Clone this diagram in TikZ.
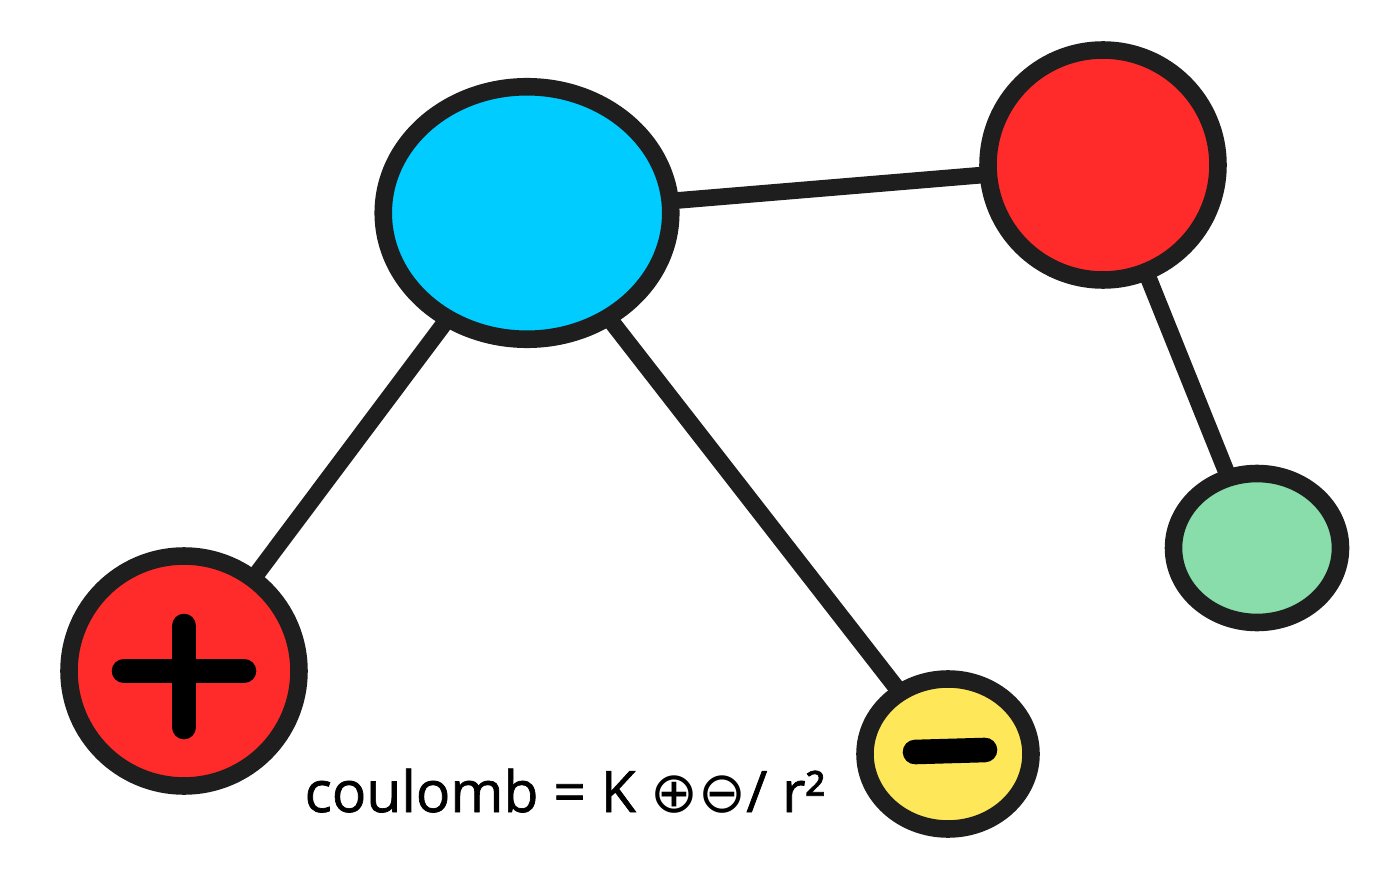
\documentclass[tikz,border=0pt]{standalone}
\usepackage{fontspec}
\setmainfont{Open Sans}
\newfontfamily\symfont{DejaVu Sans}
\newfontfamily\lawfont[FakeBold=1.2]{Open Sans}
\usetikzlibrary{shapes.geometric}
\definecolor{ink}{HTML}{1E1E1E}
\definecolor{skyblue}{HTML}{00CCFF}
\definecolor{hotred}{HTML}{FF2B2B}
\definecolor{lemon}{HTML}{FFE75A}
\definecolor{mint}{HTML}{88DDAA}
\pgfdeclarelayer{background}
\pgfsetlayers{background,main}
\tikzset{
  ball/.style={ellipse, draw=ink, line width=10pt, inner sep=0pt},
  bond/.style={ink, line width=9.5pt, line cap=round},
  sign/.style={black, line width=14pt, line cap=round},
}
\newcommand{\sym}[1]{{\symfont #1}}

\begin{document}
\begin{tikzpicture}
        \useasboundingbox (0,0) rectangle (28,17.54);
        \node[ball, fill=skyblue, minimum width=5.75cm, minimum height=5.05cm] (blue) at (10.54,13.28) {};
        \node[ball, fill=hotred, minimum width=4.6cm, minimum height=4.6cm] (red) at (22.06,14.24) {};
        \node[ball, fill=hotred, minimum width=4.6cm, minimum height=4.6cm] (plus) at (3.68,4.12) {};
        \node[ball, fill=lemon, minimum width=3.32cm, minimum height=3.0cm] (minus) at (18.96,2.46) {};
        \node[ball, fill=mint, minimum width=3.34cm, minimum height=2.98cm] (green) at (25.14,6.58) {};
        \node[anchor=base, font=\lawfont\fontsize{32.5}{38}\selectfont] (law) at (11.3,1.30)
          {coulomb = K \sym{⊕⊖}/ r²};
        \begin{pgfonlayer}{background}
          \draw[bond] (blue.center) -- (red.center);
          \draw[bond] (blue.center) -- (plus.center);
          \draw[bond] (blue.center) -- (minus.center);
          \draw[bond] (red.center) -- (green.center);
        \end{pgfonlayer}
        \draw[sign] ([xshift=-1.2cm]plus.center) -- ([xshift=1.2cm]plus.center);
        \draw[sign] ([yshift=0.9cm]plus.center) -- ([yshift=-1.12cm]plus.center);
        \draw[sign] ([xshift=-0.66cm,yshift=0.04cm]minus.center) -- ([xshift=0.74cm,yshift=0.08cm]minus.center);
      \end{tikzpicture}
\end{document}
